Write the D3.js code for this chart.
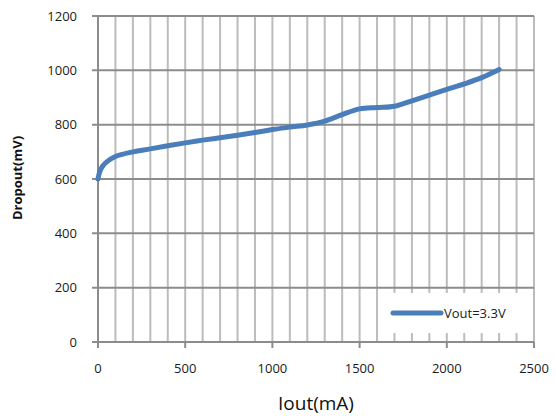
<!DOCTYPE html>
<html>
<head>
<meta charset="utf-8">
<script src="https://cdn.jsdelivr.net/npm/d3@7"></script>
<style>
  body { margin: 0; background: #fff; }
  text { font-family: "Open Sans", "Noto Sans", sans-serif; }
</style>
</head>
<body>
<div id="chart"></div>
<script>
// Dropout voltage vs. output current
var iout    = [0, 10, 25, 50, 100, 200, 300, 500, 600, 700, 800, 900, 1000, 1100, 1200, 1300, 1400, 1500, 1600, 1700, 1800, 1900, 2000, 2100, 2200, 2300];
var dropout = [600, 627, 646, 663, 683, 700, 711, 733, 743, 752, 761, 771, 782, 791, 799, 813, 837, 858, 863, 868, 888, 909, 930, 950, 973, 1003];
var xTicks = [0, 500, 1000, 1500, 2000, 2500];
var yTicks = [0, 200, 400, 600, 800, 1000, 1200];
var seriesName = "Vout=3.3V";

var W = 555, H = 416;
var margin = {top: 16, right: 21, bottom: 74, left: 98},
    width = W - margin.left - margin.right,
    height = H - margin.top - margin.bottom;

var svg = d3.select("#chart").append("svg")
    .attr("width", W)
    .attr("height", H);

var g = svg.append("g")
    .attr("transform", "translate(" + margin.left + "," + margin.top + ")");

var x = d3.scaleLinear().domain([0, 2500]).range([0, width]);
var y = d3.scaleLinear().domain([0, 1200]).range([height, 0]);

// Vertical grid every 100 mA
g.selectAll("vGrid")
    .data(d3.range(0, 2501, 100))
    .enter()
    .append("line")
    .attr("x1", d => x(d)).attr("x2", d => x(d))
    .attr("y1", 0).attr("y2", height)
    .attr("stroke", "#bcbcbc")
    .attr("stroke-width", 2);

// Horizontal grid
g.selectAll("hGrid")
    .data(yTicks)
    .enter()
    .append("line")
    .attr("x1", -6).attr("x2", width)
    .attr("y1", d => y(d)).attr("y2", d => y(d))
    .attr("stroke", "#8c8c8c")
    .attr("stroke-width", 2);

// Y axis line
g.append("line")
    .attr("x1", 0).attr("x2", 0)
    .attr("y1", 0).attr("y2", height)
    .attr("stroke", "#8c8c8c")
    .attr("stroke-width", 2);

// X major ticks below axis
g.selectAll("xTick")
    .data(xTicks)
    .enter()
    .append("line")
    .attr("x1", d => x(d)).attr("x2", d => x(d))
    .attr("y1", height).attr("y2", height + 6)
    .attr("stroke", "#8c8c8c")
    .attr("stroke-width", 2);

// Tick labels
g.selectAll("yLabel")
    .data(yTicks)
    .enter()
    .append("text")
    .attr("x", -21)
    .attr("y", d => y(d))
    .attr("dy", "0.35em")
    .attr("text-anchor", "end")
    .style("font-size", "13px")
    .style("fill", "#1a1a1a")
    .text(d => d);

g.selectAll("xLabel")
    .data(xTicks)
    .enter()
    .append("text")
    .attr("x", d => x(d))
    .attr("y", height + 26)
    .attr("dy", "0.35em")
    .attr("text-anchor", "middle")
    .style("font-size", "13px")
    .style("fill", "#1a1a1a")
    .text(d => d);

// Legend box (covers grid)
var legend = g.append("g");
legend.append("rect")
    .attr("x", 283).attr("y", 277)
    .attr("width", width - 283 - 1).attr("height", 40)
    .attr("fill", "#fff");
legend.append("line")
    .attr("x1", 295).attr("x2", 343)
    .attr("y1", 297).attr("y2", 297)
    .attr("stroke", "#4a7ebb")
    .attr("stroke-width", 5)
    .attr("stroke-linecap", "round");
legend.append("text")
    .attr("x", 346).attr("y", 297)
    .attr("dy", "0.35em")
    .style("font-size", "13px")
    .style("fill", "#1a1a1a")
    .text(seriesName);

// Curve
var pts = iout.map((v, i) => [v, dropout[i]]);
var line = d3.line()
    .x(d => x(d[0]))
    .y(d => y(d[1]))
    .curve(d3.curveCatmullRom.alpha(0.5));

g.append("path")
    .datum(pts)
    .attr("d", line)
    .attr("fill", "none")
    .attr("stroke", "#4a7ebb")
    .attr("stroke-width", 5)
    .attr("stroke-linecap", "round")
    .attr("stroke-linejoin", "round");

// Axis titles
svg.append("text")
    .attr("x", 316).attr("y", 403)
    .attr("dy", "0.35em")
    .attr("text-anchor", "middle")
    .style("font-size", "19px")
    .style("fill", "#111")
    .text("Iout(mA)");

svg.append("text")
    .attr("transform", "translate(17,178) rotate(-90)")
    .attr("dy", "0.35em")
    .attr("text-anchor", "middle")
    .style("font-size", "13px")
    .style("font-weight", "bold")
    .style("fill", "#111")
    .text("Dropout(mV)");
</script>
</body>
</html>
